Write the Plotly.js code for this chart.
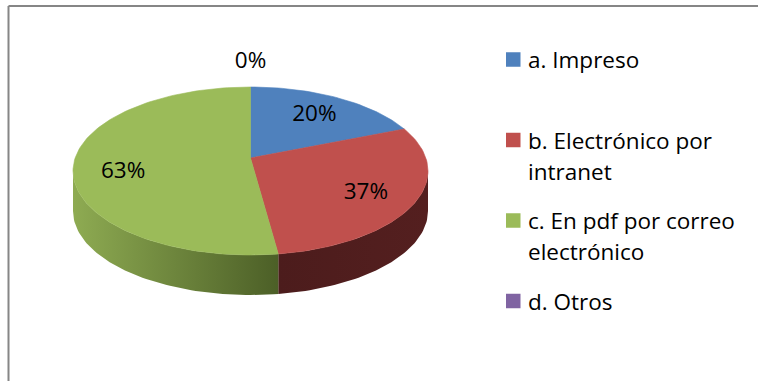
<!DOCTYPE html>
<html>
<head>
<meta charset="utf-8">
<script src="https://cdn.plot.ly/plotly-3.0.1.min.js"></script>
<style>html,body{margin:0;padding:0;background:#fff;}#chart{width:758px;height:381px;}</style>
</head>
<body>
<div id="chart"></div>
<script>
// ---- data ----
const categories = ["a. Impreso", "b. Electrónico por intranet", "c. En pdf por correo electrónico", "d. Otros"];
const values = [20, 37, 63, 0];
const valueLabels = ["20%", "37%", "63%", "0%"];

// ---- styles ----
const topColors = ["#4F81BD", "#C0504D", "#9BBB59", "#8064A2"];
const sideScales = [
  [[0, "#3a5f8c"], [1, "#223a57"]],
  [[0, "#4c1c1c"], [1, "#541f1f"]],
  [[0, "#8eab52"], [1, "#4c5f27"]],
  [[0, "#5f4a79"], [1, "#3b2e4b"]]
];
const FONT = "Open Sans, Noto Sans, sans-serif";
const FS = 22.5;

// ---- geometry of the 3-D ellipse (pixel units of the plot) ----
const CX = 250.5, CY = 171, RX = 177.5, RY = 84, APEX_DY = -13, DEPTH = 40;
const AX = CX, AY = CY + APEX_DY;
const rad = d => d * Math.PI / 180;
const ex = t => CX + RX * Math.cos(rad(t));
const ey = (t, dz) => CY - RY * Math.sin(rad(t)) + (dz || 0);

const total = values.reduce((a, b) => a + b, 0);
let start = 90;
const slices = values.map(v => {
  const span = 360 * v / total;
  const s = { t0: start, t1: start - span };
  start -= span;
  return s;
});

function arc(a, b, dz) {
  const n = Math.max(2, Math.ceil(Math.abs(b - a) / 1.5));
  const xs = [], ys = [];
  for (let k = 0; k <= n; k++) {
    const t = a + (b - a) * k / n;
    xs.push(ex(t)); ys.push(ey(t, dz));
  }
  return [xs, ys];
}

const traces = [];
// side walls
slices.forEach((s, i) => {
  const a = Math.max(s.t1, -180), b = Math.min(s.t0, 0);
  if (a >= b) return;
  const [ux, uy] = arc(b, a, 0);
  const [lx, ly] = arc(a, b, DEPTH);
  traces.push({
    type: "scatter", mode: "lines", x: ux.concat(lx), y: uy.concat(ly),
    fill: "toself", fillgradient: { type: "horizontal", colorscale: sideScales[i] },
    line: { width: 0 }, hoverinfo: "skip", showlegend: false
  });
});
// top faces
slices.forEach((s, i) => {
  if (s.t0 === s.t1) return;
  const [ax, ay] = arc(s.t0, s.t1, 0);
  traces.push({
    type: "scatter", mode: "lines", name: categories[i],
    x: [AX].concat(ax, [AX]), y: [AY].concat(ay, [AY]),
    fill: "toself", fillcolor: topColors[i],
    line: { width: 0.6, color: topColors[i] }, hoverinfo: "skip", showlegend: false
  });
});
// data labels
const lx = [], ly = [];
slices.forEach((s, i) => {
  const m = (s.t0 + s.t1) / 2;
  const k = values[i] > 0 ? 0.72 : 1.35;
  lx.push(AX + k * (ex(m) - AX));
  ly.push(AY + k * (ey(m) - AY));
});
traces.push({
  type: "scatter", mode: "text", x: lx, y: ly, text: valueLabels,
  textposition: "middle center", textfont: { family: FONT, size: FS, color: "#000" },
  hoverinfo: "skip", showlegend: false, cliponaxis: false
});

// ---- manual legend ----
function wrap(s, max) {
  const words = s.split(" "), lines = [];
  let cur = "";
  words.forEach(w => {
    const t = cur ? cur + " " + w : w;
    if (t.length > max && cur) { lines.push(cur); cur = w; } else cur = t;
  });
  if (cur) lines.push(cur);
  return lines;
}
const LEG_X = 506, LEG_SQ = 14.5, LEG_TX = 526, LEG_Y0 = 59.5, LEG_STEP = 80.5, LEG_LINE = 31;
const annotations = [], shapes = [];
categories.forEach((c, i) => {
  const yc = LEG_Y0 + i * LEG_STEP;
  shapes.push({ type: "rect", xref: "x", yref: "y", x0: LEG_X, x1: LEG_X + LEG_SQ,
    y0: yc - LEG_SQ / 2, y1: yc + LEG_SQ / 2, fillcolor: topColors[i], line: { width: 0 } });
  wrap(c, 20).forEach((ln, j) => {
    annotations.push({ xref: "x", yref: "y", x: LEG_TX, y: yc + j * LEG_LINE, text: ln,
      showarrow: false, xanchor: "left", yanchor: "middle",
      font: { family: FONT, size: FS, color: "#000" } });
  });
});
// chart border (only top and left edges fall inside the picture)
shapes.push({ type: "line", xref: "paper", yref: "paper", x0: 8.5 / 758, x1: 1, y0: 1 - 6 / 381, y1: 1 - 6 / 381, line: { color: "#868686", width: 2 } });
shapes.push({ type: "line", xref: "paper", yref: "paper", x0: 8.5 / 758, x1: 8.5 / 758, y0: 0, y1: 1 - 6 / 381, line: { color: "#868686", width: 2 } });

const layout = {
  width: 758, height: 381,
  margin: { l: 0, r: 0, t: 0, b: 0 },
  paper_bgcolor: "#fff", plot_bgcolor: "#fff",
  xaxis: { range: [0, 758], visible: false, fixedrange: true },
  yaxis: { range: [381, 0], visible: false, fixedrange: true },
  showlegend: false,
  annotations: annotations,
  shapes: shapes
};
Plotly.newPlot("chart", traces, layout, { staticPlot: true, displayModeBar: false });
</script>
</body>
</html>
